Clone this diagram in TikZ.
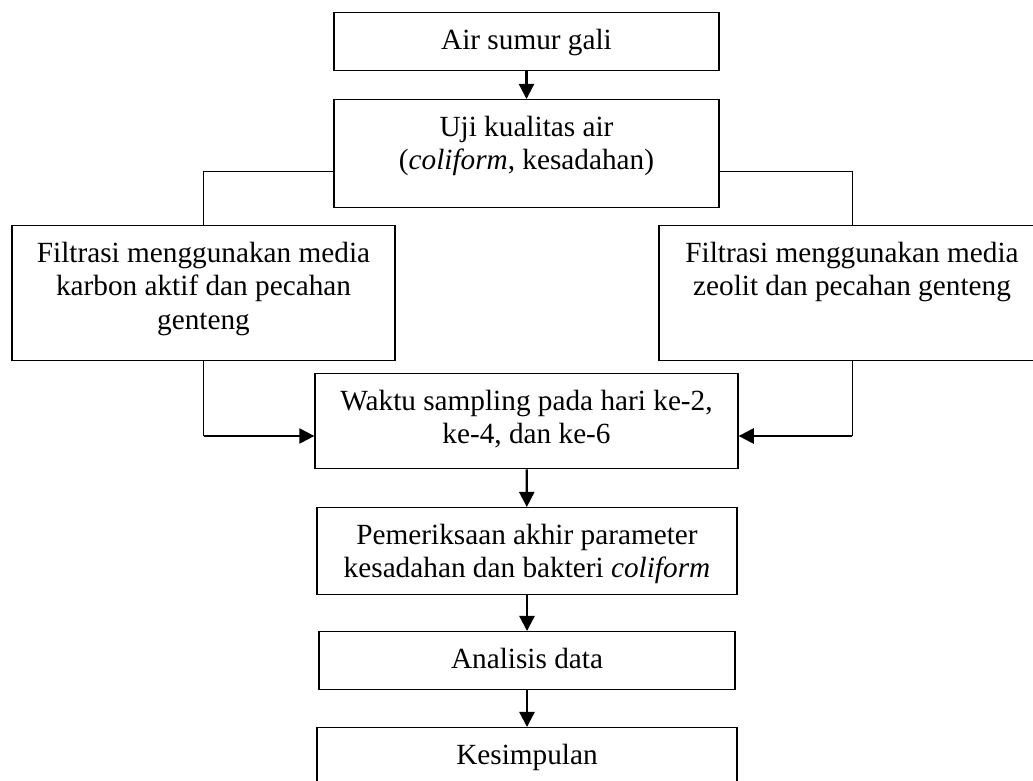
\documentclass[tikz,border=0pt]{standalone}
\usepackage{fontspec}
\setmainfont{Liberation Serif}
\usetikzlibrary{positioning, arrows.meta}

\begin{document}
\begin{tikzpicture}[x=0.41pt, y=-0.41pt,
  kotak/.style={draw, line width=0.55pt, anchor=north, align=center,
    inner xsep=2pt, inner ysep=0pt, text height=15.2pt,
    font=\fontsize{12}{13.6}\selectfont},
  garis/.style={line width=0.4pt},
  panah/.style={line width=0.9pt, -{Triangle[length=6.2pt, width=6.2pt]}}]

\useasboundingbox (0,0) rectangle (1033,780);
\clip (0,0) rectangle (1033,780);

% --- Kotak alur ---
\node[kotak, minimum width=157.9pt, text depth=8.6pt] (atas) at (526.5,12) {Air sumur gali};
\node[kotak, minimum width=157.9pt, text height=28.8pt, text depth=15.5pt] (uji) at (526.5,99) {Uji kualitas air\\(\textit{coliform}, kesadahan)};
\node[kotak, minimum width=157.0pt, text height=42.4pt, text depth=12.95pt] (kiri) at (203.5,225) {Filtrasi menggunakan media\\karbon aktif dan pecahan\\genteng};
\node[kotak, minimum width=158.3pt, text height=28.8pt, text depth=26.55pt] (kanan) at (852,225) {Filtrasi menggunakan media\\zeolit dan pecahan genteng};
\node[kotak, minimum width=173.4pt, text height=28.8pt, text depth=10.15pt] (waktu) at (526.5,373) {Waktu sampling pada hari ke-2,\\ke-4, dan ke-6};
\node[kotak, minimum width=172.2pt, text height=28.8pt, text depth=6.87pt] (periksa) at (527,507) {Pemeriksaan akhir parameter\\kesadahan dan bakteri \textit{coliform}};
\node[kotak, minimum width=170.6pt, text depth=8.6pt] (analisis) at (527,631) {Analisis data};
\node[kotak, minimum width=172.2pt, text depth=8.6pt] (simpul) at (527,727) {Kesimpulan};

% --- Titik bantu ---
\coordinate (cabang) at (0,171);
\coordinate (masuk) at (0,436);

% --- Percabangan ---
\draw[garis] (uji.west |- cabang) -| (kiri.north);
\draw[garis] (uji.east |- cabang) -| (kanan.north);
\draw[garis] (kiri.south) -- (kiri.south |- masuk);
\draw[garis] (kanan.south) -- (kanan.south |- masuk);
\draw[panah] (kiri.south |- masuk) -- (waktu.west |- masuk);
\draw[panah] (kanan.south |- masuk) -- (waktu.east |- masuk);

% --- Panah lurus ---
\draw[panah] (atas) -- (uji);
\draw[panah] (waktu) -- (periksa);
\draw[panah] (periksa) -- (analisis);
\draw[panah] (analisis) -- (simpul);

\end{tikzpicture}
\end{document}
